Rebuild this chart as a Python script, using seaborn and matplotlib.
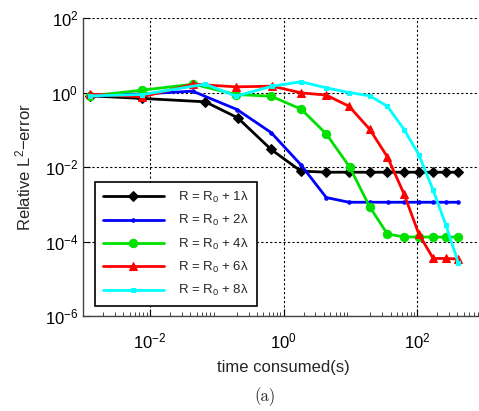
import numpy as np
import matplotlib
matplotlib.use("Agg")
import matplotlib.pyplot as plt
import matplotlib.ticker as mticker
import seaborn as sns

# =========================
# DATA (log10 values)
# =========================
labels = ["R = R$_\\mathrm{0}$ + 1λ", "R = R$_\\mathrm{0}$ + 2λ", "R = R$_\\mathrm{0}$ + 4λ",
          "R = R$_\\mathrm{0}$ + 6λ", "R = R$_\\mathrm{0}$ + 8λ"]

logx_1 = [-2.895, -2.11, -1.17, -0.685, -0.185, 0.26, 0.64, 0.98, 1.29, 1.555, 1.805, 2.025, 2.24, 2.43, 2.615]
logy_1 = [-0.09, -0.16, -0.25, -0.68, -1.53, -2.11, -2.14, -2.14, -2.14, -2.14, -2.14, -2.14, -2.14, -2.14, -2.14]

logx_2 = [-2.895, -2.11, -1.36, -0.695, -0.185, 0.26, 0.64, 0.98, 1.29, 1.565, 1.805, 2.025, 2.24, 2.43, 2.615]
logy_2 = [-0.07, -0.04, 0.036, -0.457, -1.076, -1.94, -2.82, -2.946, -2.946, -2.946, -2.946, -2.946, -2.946, -2.946, -2.946]

logx_4 = [-2.895, -2.11, -1.35, -0.71, -0.185, 0.265, 0.64, 0.99, 1.29, 1.555, 1.80, 2.025, 2.235, 2.425, 2.61]
logy_4 = [-0.09, 0.063, 0.224, -0.054, -0.099, -0.448, -1.112, -2.0, -3.07, -3.80, -3.875, -3.88, -3.88, -3.88, -3.88]

logx_6 = [-2.895, -2.11, -1.35, -0.71, -0.17, 0.265, 0.64, 0.98, 1.29, 1.555, 1.805, 2.025, 2.24, 2.43, 2.615]
logy_6 = [-0.045, -0.117, 0.224, 0.152, 0.17, -0.01, -0.07, -0.368, -0.987, -1.73, -2.73, -3.80, -4.455, -4.455, -4.47]

logx_8 = [-2.895, -2.11, -1.17, -0.71, -0.17, 0.265, 0.64, 0.98, 1.29, 1.555, 1.805, 2.025, 2.24, 2.43, 2.615]
logy_8 = [-0.09, -0.054, 0.224, -0.099, 0.17, 0.287, 0.126, 0.0, -0.09, -0.368, -0.996, -1.67, -2.625, -3.5625, -4.57]

series_x = [logx_1, logx_2, logx_4, logx_6, logx_8]
series_y = [logy_1, logy_2, logy_4, logy_6, logy_8]
colors = ["black", "blue", "#00e000", "red", "cyan"]
markers = ["D", ".", "o", "^", "s"]
msizes = [5, 5, 6, 6, 3]

# =========================
# STYLE
# =========================
sns.set_style("white")
plt.rcParams["font.family"] = ["Liberation Sans", "DejaVu Sans"]
plt.rcParams["mathtext.fontset"] = "custom"
plt.rcParams["mathtext.rm"] = "Liberation Sans"
plt.rcParams["mathtext.it"] = "Liberation Sans"

fig = plt.figure(figsize=(4.79, 4.11), dpi=100)
# axes runs slightly past the right edge (the reference is cropped there)
ax = fig.add_axes([83 / 479, 1 - 316 / 411, (484 - 83) / 479, (316 - 18) / 411])

for xs, ys, c, m, ms, lab in zip(series_x, series_y, colors, markers, msizes, labels):
    sns.lineplot(x=10 ** np.array(xs), y=10 ** np.array(ys), color=c, marker=m,
                 markersize=ms, markeredgecolor=c, linewidth=2, label=lab, ax=ax)

ax.set_xscale("log")
ax.set_yscale("log")
ax.set_xlim(1e-3, 1e3)
ax.set_ylim(1e-6, 1e2)
ax.xaxis.set_major_locator(mticker.FixedLocator([1e-2, 1e0, 1e2]))
ax.yaxis.set_major_locator(mticker.FixedLocator([1e-6, 1e-4, 1e-2, 1e0, 1e2]))
ax.xaxis.set_minor_locator(mticker.LogLocator(base=10, subs=np.arange(2, 10), numticks=20))
ax.yaxis.set_minor_locator(mticker.NullLocator())
ax.xaxis.set_major_formatter(mticker.LogFormatterMathtext())
ax.yaxis.set_major_formatter(mticker.LogFormatterMathtext())

ax.grid(True, which="major", color="black", linestyle=(0, (2, 2)), linewidth=0.8)
ax.tick_params(axis="both", which="major", direction="in", length=5, width=0.8,
               labelsize=12, colors="black", left=True, bottom=True)
ax.tick_params(axis="x", which="major", pad=11)
ax.tick_params(axis="x", which="minor", direction="in", length=3, width=0.6, bottom=True)
for side in ["top", "right"]:
    ax.spines[side].set_visible(False)
for side in ["left", "bottom"]:
    ax.spines[side].set_color("#444444")
    ax.spines[side].set_linewidth(1.0)

ax.set_xlabel("time consumed(s)", fontsize=12, labelpad=6)
ax.set_ylabel("Relative L$^\\mathrm{2}$−error", fontsize=12, labelpad=8)

leg = ax.legend(loc="lower left", bbox_to_anchor=(0.03, 0.033), borderaxespad=0,
                fontsize=9.5, frameon=True, fancybox=False, framealpha=1, edgecolor="black",
                handlelength=4.6, labelspacing=0.62, borderpad=0.6, handletextpad=1.1)
leg.get_frame().set_linewidth(1.2)

fig.text(265 / 479, 1 - 397 / 411, "(a)", fontfamily="cmr10", fontsize=12,
         ha="center", va="center")

fig.savefig("out.png", dpi=100)
